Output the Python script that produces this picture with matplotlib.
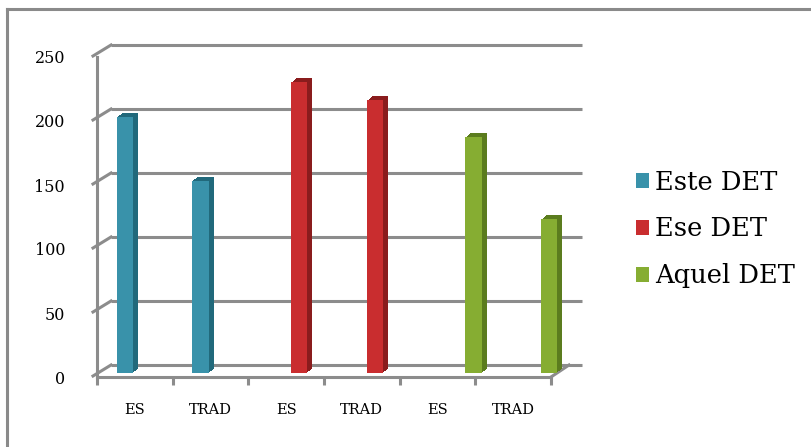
import numpy as np
import matplotlib
matplotlib.use("Agg")
import matplotlib.pyplot as plt
import matplotlib.transforms as mtransforms
from matplotlib.patches import Patch
from matplotlib.lines import Line2D

# data
categories = ["ES", "TRAD", "ES", "TRAD", "ES", "TRAD"]
series_names = ["Este DET", "Ese DET", "Aquel DET"]
series_of_bar = [0, 0, 1, 1, 2, 2]
values = [200, 150, 227, 213, 184, 120]
yticks = [0, 50, 100, 150, 200, 250]

face_colors = ["#3992AA", "#C92D2F", "#86AD32"]
side_colors = ["#21697B", "#8A1C1D", "#5B7C1E"]
grid_col = "#8C8C8C"

W, H = 812, 447
fig = plt.figure(figsize=(W / 100, H / 100), dpi=100)
plt.rcParams['font.family'] = ['DejaVu Serif']

# axes: front plane, x from 97px to 551px, y 0 at 377px, 250 at 57px
ax = fig.add_axes([97 / W, (H - 377) / H, (551 - 97) / W, (377 - 57) / H])
ax.set_xlim(-0.5, 5.5)
ax.set_ylim(0, 250)
for s in ax.spines.values():
    s.set_visible(False)
ax.patch.set_alpha(0)

# back wall offset (depth)
back = ax.transData + mtransforms.ScaledTranslation(0.14, 0.12, fig.dpi_scale_trans)

# back wall gridlines
ax.hlines(yticks, -0.5, 5.72, transform=back, color=grid_col, lw=2.2, zorder=1, clip_on=False)
# left wall: diagonal connectors and vertical front line
for v in yticks:
    p0 = ax.transData.transform((-0.5, v))
    p1 = back.transform((-0.5, v))
    pts = ax.transData.inverted().transform([p0 - [4, -1], p1])
    ax.plot(pts[:, 0], pts[:, 1], color=grid_col, lw=2.2, clip_on=False, zorder=1)
ax.plot([-0.5, -0.5], [0, 250], color=grid_col, lw=2.2, clip_on=False, zorder=1)

# floor: front edge + right diagonal
ax.plot([-0.5, 5.5], [0, 0], color=grid_col, lw=2.2, clip_on=False, zorder=2)
pr0 = ax.transData.transform((5.5, 0))
pr1 = back.transform((5.5, 0))
pts = ax.transData.inverted().transform([pr0, pr1 + [4, 0]])
ax.plot(pts[:, 0], pts[:, 1], color=grid_col, lw=2.2, clip_on=False, zorder=2)
# ticks below front edge
ax.set_xticks(np.arange(-0.5, 6.0, 1.0), minor=True)
ax.tick_params(axis="x", which="minor", length=6, width=2.2, color=grid_col, direction="out")

# bars
offsets = [-0.3, 0.0, 0.3]
bar_w = 0.22
mid = ax.transData + mtransforms.ScaledTranslation(0.13, 0.04, fig.dpi_scale_trans)
for i, v in enumerate(values):
    s = series_of_bar[i]
    x = i + offsets[s]
    for k in range(5, 0, -1):
        tr = mid + mtransforms.ScaledTranslation(k / 100, k * 0.8 / 100, fig.dpi_scale_trans)
        b = ax.bar(x, v, width=bar_w, color=side_colors[s], transform=tr, zorder=3 + (5 - k) * 0.01, lw=0)
        b[0].set_clip_on(False)
    b = ax.bar(x, v, width=bar_w, color=face_colors[s], transform=mid, zorder=4, lw=0)
    b[0].set_clip_on(False)

# tick labels
ax.set_xticks(range(len(categories)))
ax.set_xticklabels(categories, fontsize=10.5)
ax.tick_params(axis="x", which="major", length=0, pad=19)
ax.set_yticks(yticks)
ax.set_yticklabels([str(t) for t in yticks], fontsize=11.5)
ax.tick_params(axis="y", length=0, pad=23)

# legend
handles = [Patch(facecolor=c, edgecolor="none") for c in face_colors]
fig.legend(handles, series_names, loc="center left", bbox_to_anchor=(636 / W, (H - 229) / H),
           frameon=False, fontsize=18.5, handlelength=0.5, handleheight=0.5,
           handletextpad=0.25, labelspacing=0.85, borderaxespad=0, borderpad=0)

# outer frame (top and left)
fig.add_artist(Line2D([7 / W, 7 / W], [0, (H - 8.5) / H], color="#8A8A8A", lw=2.2, transform=fig.transFigure))
fig.add_artist(Line2D([7 / W, 1], [(H - 8.5) / H, (H - 8.5) / H], color="#8A8A8A", lw=2.2, transform=fig.transFigure))

fig.savefig("out.png", dpi=100)
